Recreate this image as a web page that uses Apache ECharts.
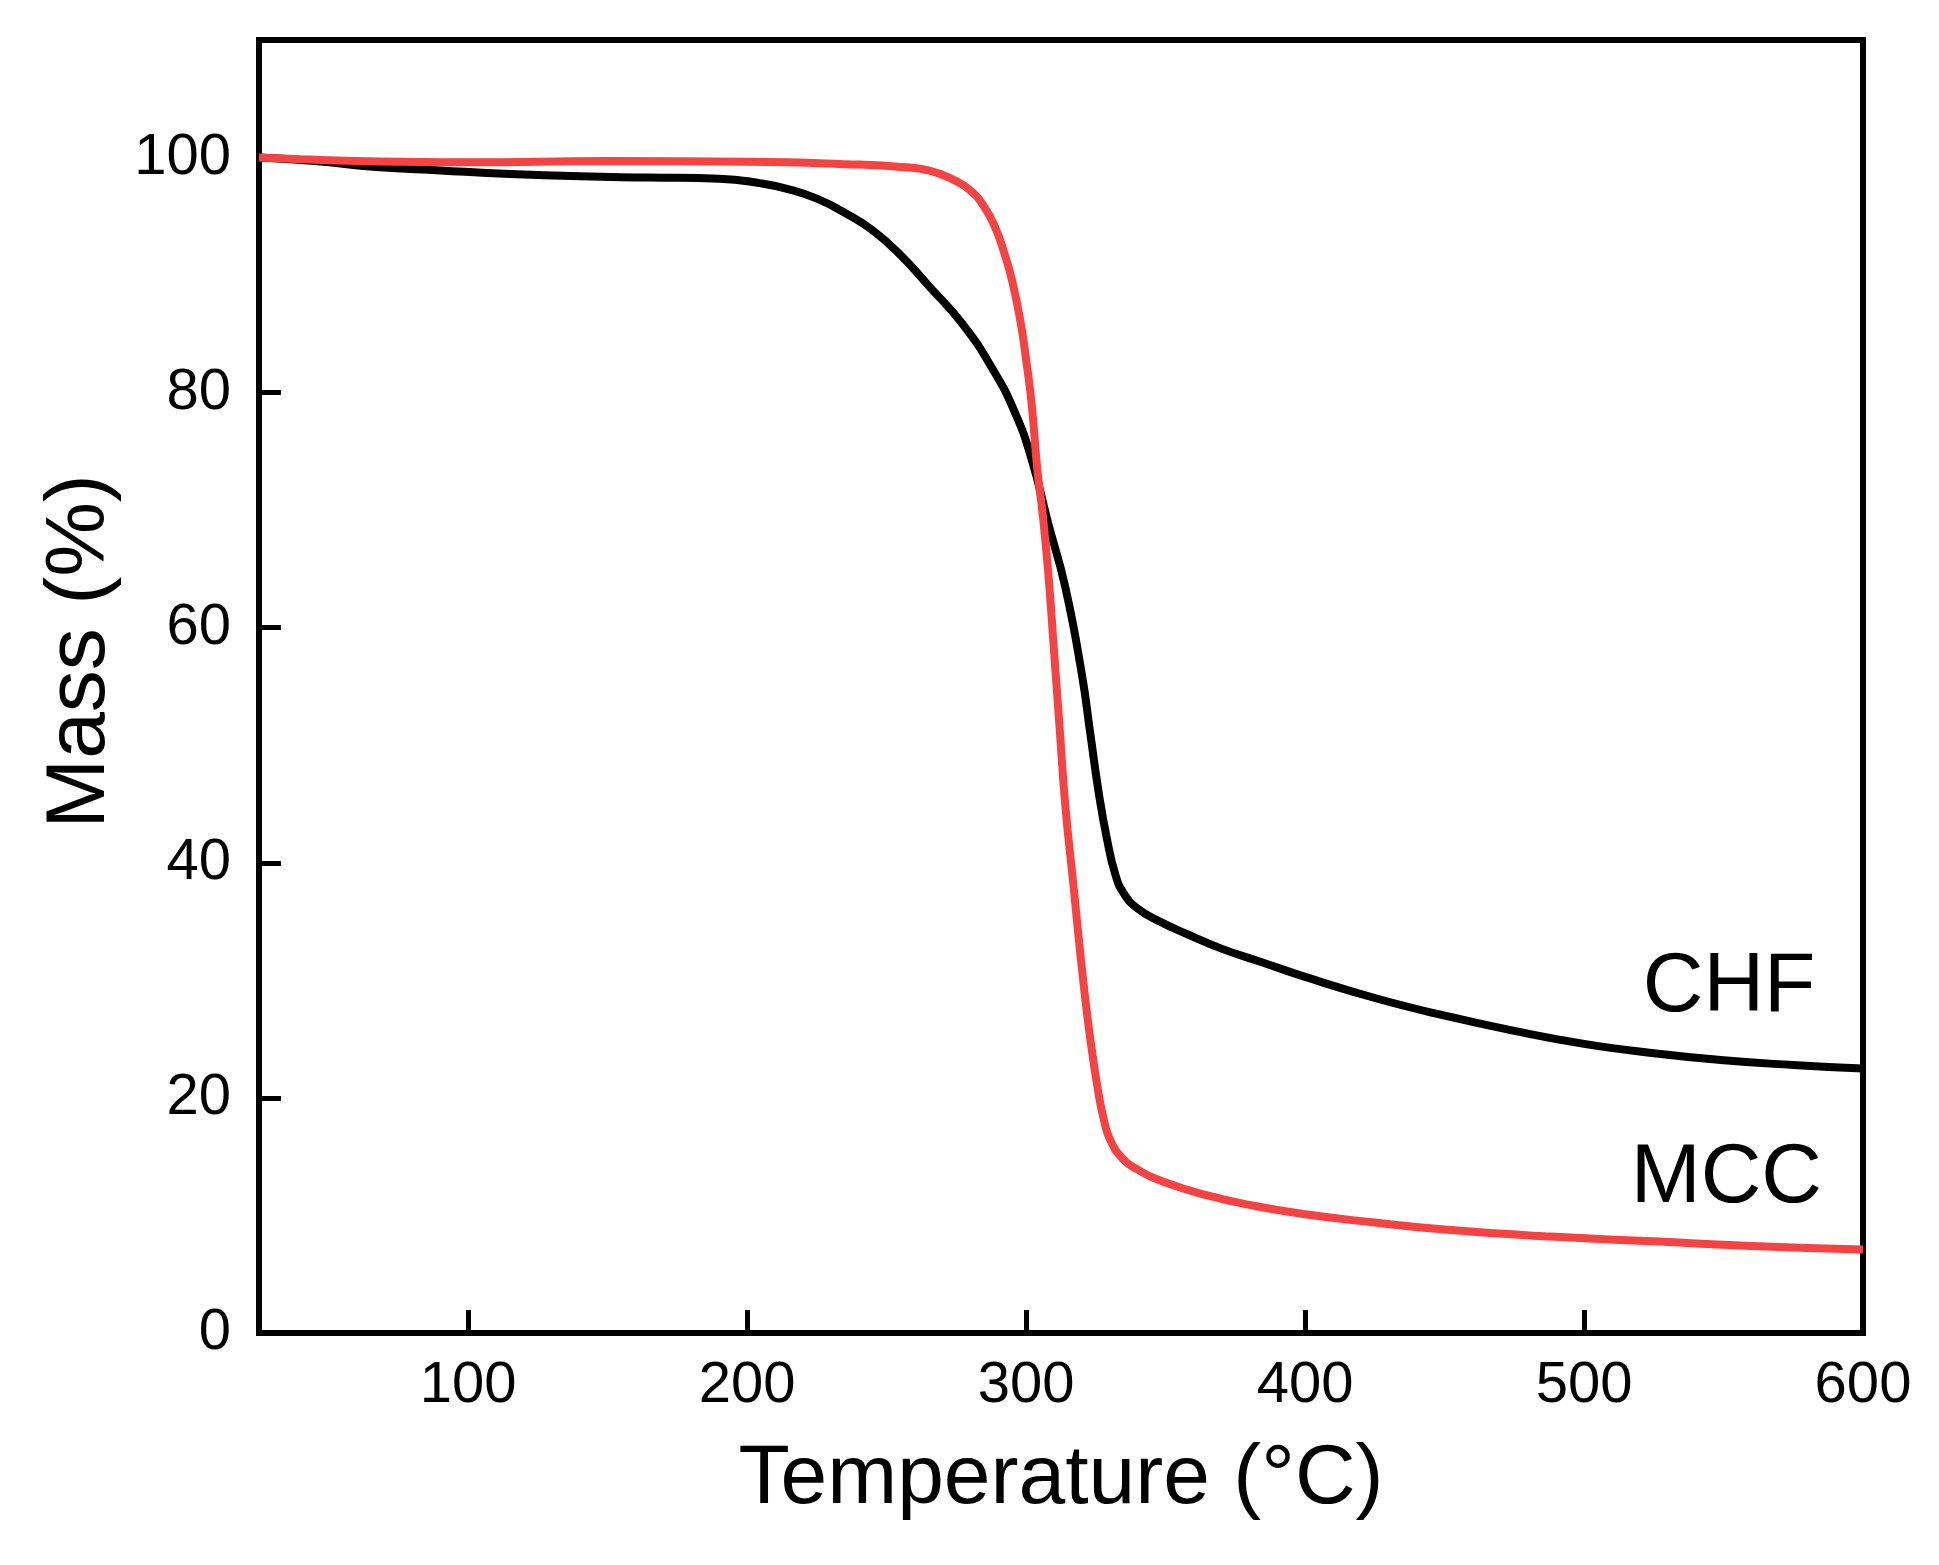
<!DOCTYPE html>
<html>
<head>
<meta charset="utf-8">
<script src="https://cdn.jsdelivr.net/npm/echarts@6/dist/echarts.min.js"></script>
<style>
  html, body { margin: 0; padding: 0; background: #fff; }
  #main { width: 1939px; height: 1565px; }
</style>
</head>
<body>
<div id="main"></div>
<script>
// TGA curves
let chfTemp = [25, 45, 67, 90, 115, 140, 165, 190, 205, 215, 225, 235, 245, 255, 265, 277, 288, 296, 302, 308, 314, 320, 323, 326, 329, 332, 335, 340, 348, 358, 370, 385, 400, 425, 450, 475, 500, 525, 550, 575, 600];
let chfMass = [100, 99.7, 99.2, 98.9, 98.6, 98.4, 98.3, 98.2, 97.8, 97.3, 96.5, 95.3, 93.8, 91.7, 89.1, 85.9, 82.0, 78.3, 74.3, 68.8, 63.5, 56.0, 51.0, 46.0, 42.0, 39.0, 37.4, 36.1, 35.0, 33.9, 32.7, 31.5, 30.3, 28.5, 27.0, 25.7, 24.6, 23.8, 23.2, 22.8, 22.5];

let mccTemp = [25, 40, 60, 100, 150, 200, 240, 255, 265, 274, 280, 285, 289, 292, 295, 298, 300, 302, 304, 306, 308, 310, 312, 314, 317, 320, 323, 326, 328, 330, 334, 340, 350, 365, 380, 400, 425, 450, 488, 525, 560, 600];
let mccMass = [100, 99.85, 99.7, 99.6, 99.7, 99.65, 99.4, 99.2, 98.9, 98.1, 97.2, 95.8, 94.0, 92.0, 89.5, 86.0, 82.8, 79.0, 73.5, 69.5, 64.5, 58.0, 51.5, 45.0, 38.0, 31.0, 25.0, 20.3, 18.0, 16.5, 15.0, 13.9, 12.8, 11.7, 10.9, 10.1, 9.4, 8.8, 8.2, 7.8, 7.4, 7.1];

let xTicks = [100, 200, 300, 400, 500, 600];
let yTicks = [0, 20, 40, 60, 80, 100];

// where the curve names sit (data units)
let chfLabelAt = [552, 29.4];
let mccLabelAt = [551, 13.1];

let font = "Liberation Sans, Arial, Helvetica, sans-serif";

let pairs = (xs, ys) => xs.map((x, i) => [x, ys[i]]);

let nameLabel = (text, at) => ({
  symbol: "circle",
  symbolSize: 1,
  itemStyle: { color: "rgba(0,0,0,0)" },
  label: {
    show: true,
    position: "inside",
    formatter: text,
    color: "#000",
    fontSize: 84,
    fontFamily: font,
  },
  data: [{ coord: at }],
});

let option = {
  animation: false,
  backgroundColor: "#fff",
  grid: {
    left: 259,
    right: 76,
    top: 40,
    bottom: 232,
    show: true,
    borderColor: "#000",
    borderWidth: 6,
  },
  xAxis: {
    type: "value",
    min: 25,
    max: 600,
    name: "Temperature (°C)",
    nameLocation: "middle",
    nameGap: 105,
    nameTextStyle: { fontSize: 84, color: "#000", fontFamily: font },
    axisLine: { lineStyle: { color: "#000", width: 6 } },
    axisTick: {
      inside: true,
      length: 23,
      customValues: xTicks,
      lineStyle: { color: "#000", width: 5 },
    },
    axisLabel: {
      customValues: xTicks,
      margin: 24,
      fontSize: 58,
      color: "#000",
      fontFamily: font,
    },
    splitLine: { show: false },
  },
  yAxis: {
    type: "value",
    min: 0,
    max: 110,
    name: "Mass (%)",
    nameLocation: "middle",
    nameGap: 112,
    nameTextStyle: {
      fontSize: 84,
      color: "#000",
      fontFamily: font,
      padding: [0, 0, 0, 70],
    },
    axisLine: { lineStyle: { color: "#000", width: 6 } },
    axisTick: {
      inside: true,
      length: 22,
      customValues: yTicks,
      lineStyle: { color: "#000", width: 5 },
    },
    axisLabel: {
      customValues: yTicks,
      margin: 28,
      fontSize: 58,
      color: "#000",
      fontFamily: font,
    },
    splitLine: { show: false },
  },
  series: [
    {
      name: "CHF",
      type: "line",
      data: pairs(chfTemp, chfMass),
      smooth: 0.5,
      symbol: "none",
      lineStyle: { color: "#000", width: 8 },
      markPoint: nameLabel("CHF", chfLabelAt),
    },
    {
      name: "MCC",
      type: "line",
      data: pairs(mccTemp, mccMass),
      smooth: 0.5,
      symbol: "none",
      lineStyle: { color: "#f44343", width: 8 },
      markPoint: nameLabel("MCC", mccLabelAt),
    },
  ],
};

var myChart = echarts.init(document.getElementById("main"));
myChart.setOption(option);
</script>
</body>
</html>
